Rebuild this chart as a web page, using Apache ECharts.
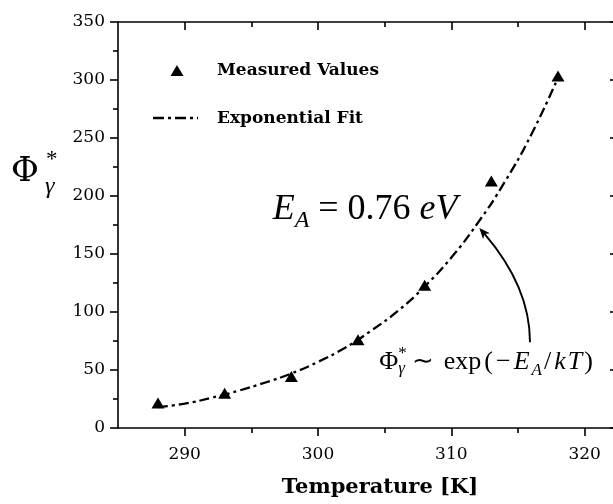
<!DOCTYPE html>
<html><head><meta charset="utf-8">
<script src="https://cdn.jsdelivr.net/npm/echarts@6/dist/echarts.min.js"></script>
<style>html,body{margin:0;padding:0;background:#fff}#c{width:613px;height:504px}</style>
</head><body><div id="c"></div>
<script>
// ---- data ----
const temperatures = [288, 293, 298, 303, 308, 313, 318];
const measuredValues = [21.5, 30, 44.5, 76, 123, 213, 303.5];
const fitTemperatures = [288, 290, 292, 294, 296, 298, 300, 302, 304, 306, 308, 310, 312, 314, 316, 318];
const fitValues = [18, 21, 26, 32, 39, 47, 57, 69, 84, 101, 122, 147, 177, 212, 253, 302];
const xMajorTicks = [290, 300, 310, 320];
const xMinorTicks = [295, 305, 315];
const legendNames = ['Measured Values', 'Exponential Fit'];
const xTitle = 'Temperature [K]';

const xMin = 285, xMax = 322.5, yMin = 0, yMax = 350, yInterval = 50;

const serif = 'DejaVu Serif';
const math = 'Liberation Serif';
const black = '#000';

const chart = echarts.init(document.getElementById('c'), null, {renderer: 'canvas'});

function xAxisDef(pos, ticks, major, labels, line) {
  return {
    type: 'value', position: pos, min: xMin, max: xMax,
    axisLine: {show: line, lineStyle: {color: black, width: 1.6}},
    axisTick: {show: true, customValues: ticks, inside: pos === 'top', length: major ? 8 : 5, lineStyle: {color: black, width: 1.6}},
    axisLabel: {show: labels, customValues: ticks, margin: 18, color: black, fontSize: 17, fontFamily: serif},
    splitLine: {show: false}
  };
}
function yAxisDef(pos, labels) {
  return {
    type: 'value', position: pos, min: yMin, max: yMax, interval: yInterval,
    axisLine: {show: true, lineStyle: {color: black, width: 1.6}},
    axisTick: {show: true, inside: pos === 'right', length: 8, lineStyle: {color: black, width: 1.6}},
    minorTick: {show: true, splitNumber: 2, length: 5, lineStyle: {color: black, width: 1.6}},
    axisLabel: {show: labels, margin: 13, color: black, fontSize: 17, fontFamily: serif},
    splitLine: {show: false}
  };
}

chart.setOption({
  animation: false,
  backgroundColor: '#fff',
  grid: {left: 118, width: 500, top: 22, bottom: 76, containLabel: false, outerBoundsMode: 'none'},
  xAxis: [
    xAxisDef('bottom', xMajorTicks, true, true, true),
    xAxisDef('bottom', xMinorTicks, false, false, false),
    xAxisDef('top', xMajorTicks, true, false, true),
    xAxisDef('top', xMinorTicks, false, false, false)
  ],
  yAxis: [yAxisDef('left', true), yAxisDef('right', false)],
  series: [
    {
      type: 'line', name: legendNames[1], xAxisIndex: 0, yAxisIndex: 0,
      data: fitTemperatures.map((t, i) => [t, fitValues[i]]),
      smooth: true, showSymbol: false,
      lineStyle: {color: black, width: 2.3, type: [10, 4, 3, 4]}, z: 2
    },
    {
      type: 'scatter', name: legendNames[0], xAxisIndex: 0, yAxisIndex: 0,
      data: temperatures.map((t, i) => [t, measuredValues[i]]),
      symbol: 'triangle', symbolSize: [13, 11], itemStyle: {color: black, opacity: 1}, z: 3
    }
  ]
});

// ---- annotations (anchored in data coordinates) ----
const px = p => chart.convertToPixel({xAxisIndex: 0, yAxisIndex: 0}, p);
const arrowStart = px([315.9, 74]);
const arrowCtrl = px([315.9, 121.5]);
const arrowTip = px([312.1, 172.5]);
const eqAnchor = px([296.6, 188]);
const formulaAnchor = px([304.6, 57]);

let dx = arrowTip[0] - arrowCtrl[0], dy = arrowTip[1] - arrowCtrl[1];
const dl = Math.hypot(dx, dy); dx /= dl; dy /= dl;
const headLen = 11, headW = 4.5;
const base = [arrowTip[0] - headLen * dx, arrowTip[1] - headLen * dy];
const notch = [arrowTip[0] - 8 * dx, arrowTip[1] - 8 * dy];
const perp = [-dy, dx];

const graphics = [
  // y axis title
  {type: 'text', left: 11, top: 155, style: {text: 'Φ', font: '34px ' + serif, fill: black}},
  {type: 'text', left: 46, top: 148, style: {text: '*', font: '23px ' + math, fill: black}},
  {type: 'text', left: 45, top: 175, style: {text: 'γ', font: 'italic 24px ' + math, fill: black}},
  // x axis title
  {type: 'text', x: 380, y: 488, style: {text: xTitle, font: 'bold 21px ' + serif, fill: black, align: 'center', verticalAlign: 'middle'}},
  // legend
  {type: 'polygon', shape: {points: [[177, 65], [183.5, 76], [170.5, 76]]}, style: {fill: black}},
  {type: 'text', x: 217, y: 71, style: {text: legendNames[0], font: 'bold 17px ' + serif, fill: black, verticalAlign: 'middle'}},
  {type: 'polyline', shape: {points: [[153, 118], [198, 118]]}, style: {stroke: black, lineWidth: 2.3, lineDash: [11, 4, 3, 4], fill: null}},
  {type: 'text', x: 217, y: 119, style: {text: legendNames[1], font: 'bold 17px ' + serif, fill: black, verticalAlign: 'middle'}},
  // E_A label
  {type: 'text', x: eqAnchor[0], y: eqAnchor[1], style: {
    text: '{i|E}{s|A}{r| = 0.76 }{i|eV}', verticalAlign: 'middle', align: 'left',
    rich: {
      i: {font: 'italic 36px ' + math, fill: black, lineHeight: 46},
      r: {font: '36px ' + math, fill: black, lineHeight: 46},
      s: {font: 'italic 24px ' + math, fill: black, lineHeight: 18, verticalAlign: 'bottom'}
    }
  }},
  // arrow
  {type: 'bezierCurve', shape: {x1: arrowStart[0], y1: arrowStart[1], cpx1: arrowCtrl[0], cpy1: arrowCtrl[1], x2: notch[0], y2: notch[1]},
    style: {stroke: black, lineWidth: 1.9, fill: null}},
  {type: 'polygon', shape: {points: [arrowTip, [base[0] + headW * perp[0], base[1] + headW * perp[1]], notch, [base[0] - headW * perp[0], base[1] - headW * perp[1]]]},
    style: {fill: black}},
  // formula
  {type: 'text', x: formulaAnchor[0], y: formulaAnchor[1], style: {text: 'Φ', font: '26px ' + math, fill: black, verticalAlign: 'middle'}},
  {type: 'text', x: formulaAnchor[0] + 19, y: formulaAnchor[1] - 8, style: {text: '*', font: '17px ' + math, fill: black, verticalAlign: 'middle'}},
  {type: 'text', x: formulaAnchor[0] + 19, y: formulaAnchor[1] + 7, style: {text: 'γ', font: 'italic 17px ' + math, fill: black, verticalAlign: 'middle'}},
  {type: 'text', x: formulaAnchor[0] + 33, y: formulaAnchor[1], style: {
    text: '{r|∼}{r| exp}{r|(}{r|−}{i|E}{s|A}{r|/}{i|k}{i|T}{r|)}', verticalAlign: 'middle', align: 'left',
    rich: {
      i: {font: 'italic 26px ' + math, fill: black, lineHeight: 34, padding: [0, 2, 0, 0]},
      r: {font: '26px ' + math, fill: black, lineHeight: 34, padding: [0, 3, 0, 0]},
      s: {font: 'italic 17px ' + math, fill: black, lineHeight: 15, verticalAlign: 'bottom', padding: [0, 2, 0, 0]}
    }
  }}
];
chart.setOption({graphic: graphics});
</script></body></html>
